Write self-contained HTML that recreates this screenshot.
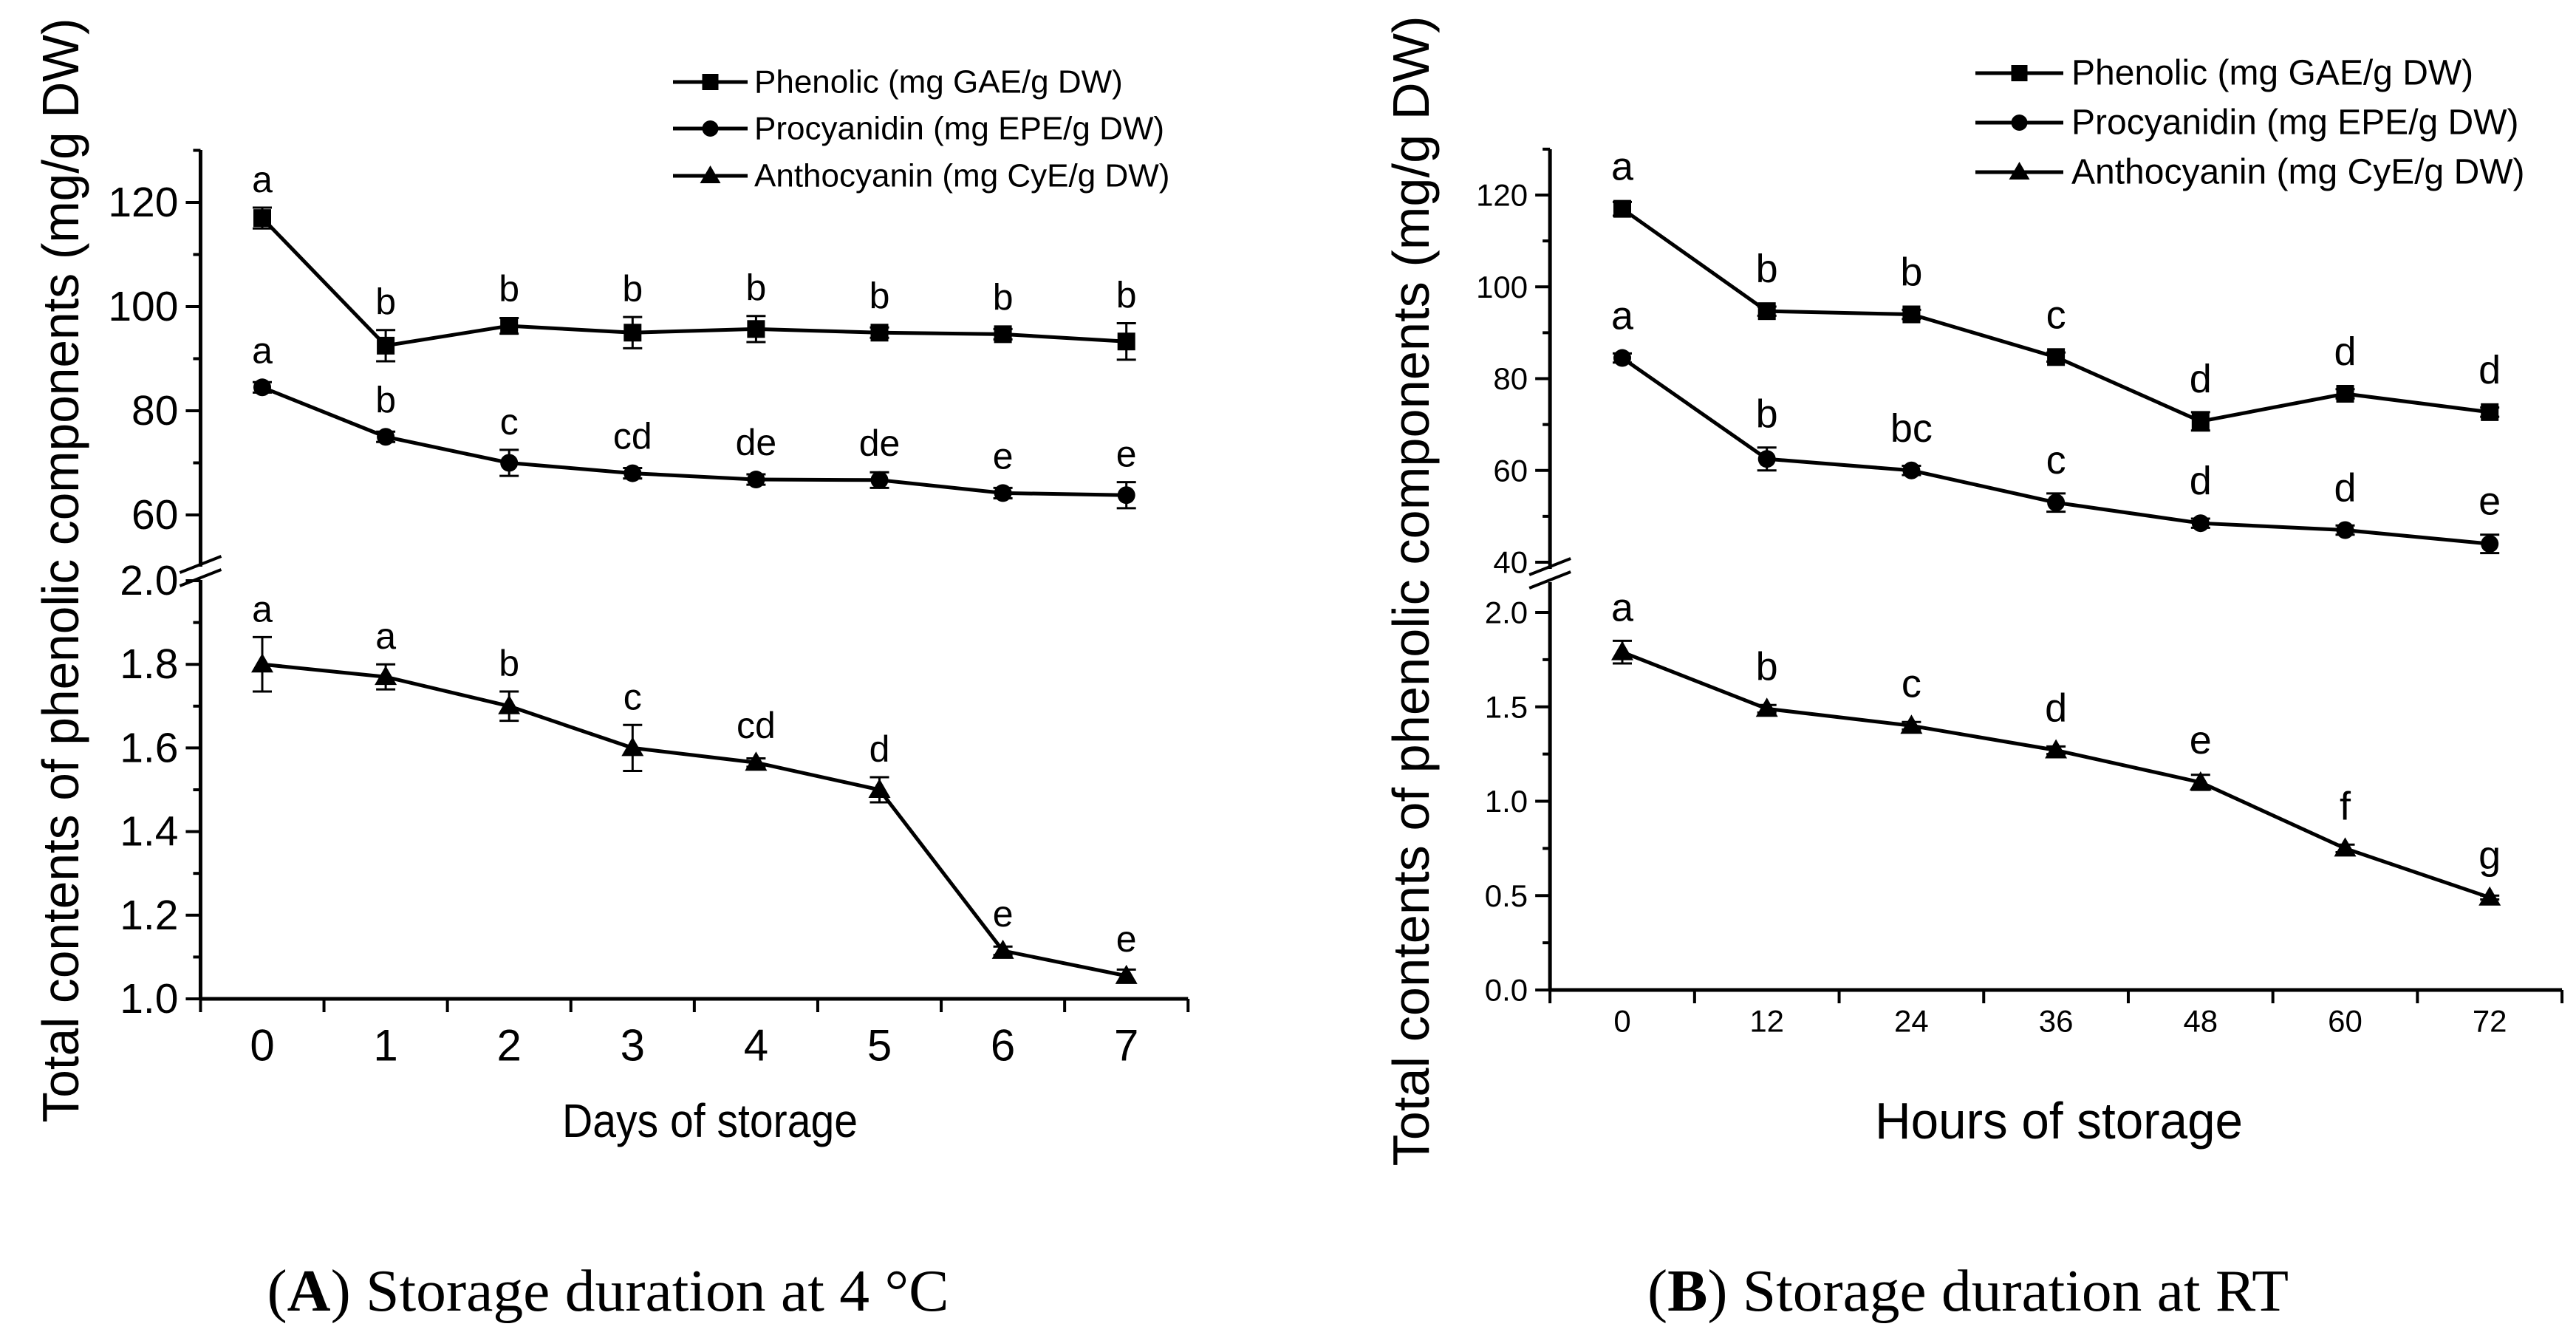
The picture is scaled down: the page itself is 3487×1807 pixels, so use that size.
<!DOCTYPE html>
<html><head><meta charset="utf-8"><style>
html,body{margin:0;padding:0;background:#fff}
svg{display:block}
text{font-family:"Liberation Sans",Arial,sans-serif;fill:#000}
.cap{font-family:"Liberation Serif","Times New Roman",serif}
</style></head><body>
<svg id="fig" width="3487" height="1807" viewBox="0 0 3487 1807" xmlns="http://www.w3.org/2000/svg">
<text class="cap" x="823" y="1748" font-size="80" text-anchor="middle" dominant-baseline="central" textLength="923" lengthAdjust="spacingAndGlyphs">(<tspan font-weight="bold">A</tspan>) Storage duration at 4 °C</text>
<text class="cap" x="2664" y="1748" font-size="80" text-anchor="middle" dominant-baseline="central" textLength="868" lengthAdjust="spacingAndGlyphs">(<tspan font-weight="bold">B</tspan>) Storage duration at RT</text>
</svg>
<script>
// Panel A data
const catsA = ['0','1','2','3','4','5','6','7'];
const phenA = [117, 92.5, 96.3, 95, 95.7, 95, 94.7, 93.3];
const phenErrA = [2, 3, 1.5, 3, 2.5, 1, 1, 3.5];
const phenLetA = ['a','b','b','b','b','b','b','b'];
const procA = [84.5, 75, 70, 68, 66.8, 66.7, 64.2, 63.8];
const procErrA = [1, 1, 2.5, 1, 1, 1.5, 1, 2.5];
const procLetA = ['a','b','c','cd','de','de','e','e'];
const anthA = [1.80, 1.77, 1.70, 1.60, 1.565, 1.50, 1.115, 1.055];
const anthErrA = [0.065, 0.03, 0.035, 0.055, 0.01, 0.03, 0.01, 0.015];
const anthLetA = ['a','a','b','c','cd','d','e','e'];
const upTicksA = [60, 80, 100, 120];
const loTicksA = ['1.0','1.2','1.4','1.6','1.8','2.0'];
// Panel B data
const catsB = ['0','12','24','36','48','60','72'];
const phenB = [117, 94.7, 94, 84.7, 70.7, 76.7, 72.7];
const phenErrB = [1.5, 1, 1, 1, 2, 1, 1];
const phenLetB = ['a','b','b','c','d','d','d'];
const procB = [84.5, 62.5, 60, 53, 48.5, 47, 44];
const procErrB = [1, 2.5, 1, 2, 1, 1, 2];
const procLetB = ['a','b','bc','c','d','d','e'];
const anthB = [1.79, 1.49, 1.40, 1.27, 1.10, 0.75, 0.49];
const anthErrB = [0.06, 0.02, 0.02, 0.02, 0.04, 0.02, 0.01];
const anthLetB = ['a','b','c','d','e','f','g'];
const upTicksB = [40, 60, 80, 100, 120];
const loTicksB = ['0.0','0.5','1.0','1.5','2.0'];

const NS='http://www.w3.org/2000/svg';
const svg=document.getElementById('fig');
function mk(tag,attrs,parent){const e=document.createElementNS(NS,tag);for(const k in attrs)e.setAttribute(k,attrs[k]);(parent||svg).appendChild(e);return e;}

function panel(cfg){
  const g=mk('g',{});
  
  
  const n=cfg.cats.length;
  const xs=(i)=>cfg.x0+i*cfg.dx;
  const axL=cfg.x0-cfg.dx/2, axR=cfg.x0+(n-0.5)*cfg.dx;
  const yU=(v)=>cfg.uA.y+(v-cfg.uA.v)*(cfg.uB.y-cfg.uA.y)/(cfg.uB.v-cfg.uA.v);
  const yL=(v)=>cfg.lA.y+(v-cfg.lA.v)*(cfg.lB.y-cfg.lA.y)/(cfg.lB.v-cfg.lA.v);
  const ya=mk('path',{d:`M${axL} ${cfg.top}V${cfg.brk-8}M${axL} ${cfg.brk+10}V${cfg.bottom}`,stroke:'#000','stroke-width':5,fill:'none'},g);
  
  
  const xa=mk('line',{x1:axL,x2:axR,y1:cfg.bottom,y2:cfg.bottom,stroke:'#000','stroke-width':5},g);
  
  
  const br=mk('path',{d:`M${axL-28} ${cfg.brk}L${axL+28} ${cfg.brk-22}M${axL-28} ${cfg.brk+18}L${axL+28} ${cfg.brk-4}`,stroke:'#000','stroke-width':4,fill:'none'},g);
  
  
  cfg.upT.forEach((v,i)=>{
    mk('line',{x1:axL-20,x2:axL,y1:yU(v),y2:yU(v),stroke:'#000','stroke-width':4},g);
    if(i<cfg.upT.length-1){const m=(v+cfg.upT[i+1])/2;mk('line',{x1:axL-10,x2:axL,y1:yU(m),y2:yU(m),stroke:'#000','stroke-width':4},g);}
    const t=mk('text',{x:axL-30,y:yU(v),'font-size':cfg.tfs,'text-anchor':'end','dominant-baseline':'central'},g);
    
    
    t.textContent=v;
  });
  const um=cfg.upT[cfg.upT.length-1]+(cfg.upT[1]-cfg.upT[0])/2;
  mk('line',{x1:axL-10,x2:axL,y1:yU(um),y2:yU(um),stroke:'#000','stroke-width':4},g);
  cfg.loT.forEach((s,i)=>{
    const v=parseFloat(s);
    mk('line',{x1:axL-20,x2:axL,y1:yL(v),y2:yL(v),stroke:'#000','stroke-width':4},g);
    if(i<cfg.loT.length-1){const m=(v+parseFloat(cfg.loT[i+1]))/2;mk('line',{x1:axL-10,x2:axL,y1:yL(m),y2:yL(m),stroke:'#000','stroke-width':4},g);}
    const t=mk('text',{x:axL-30,y:yL(v),'font-size':cfg.tfs,'text-anchor':'end','dominant-baseline':'central'},g);
    
    
    t.textContent=s;
  });
  for(let i=0;i<=n;i++){const x=axL+i*cfg.dx;mk('line',{x1:x,x2:x,y1:cfg.bottom,y2:cfg.bottom+18,stroke:'#000','stroke-width':4},g);}
  cfg.cats.forEach((c,i)=>{
    const t=mk('text',{x:xs(i),y:cfg.bottom+cfg.xly,'font-size':cfg.xfs,'text-anchor':'middle','dominant-baseline':'central'},g);
    
    
    t.textContent=c;
  });
  const xt=mk('text',{x:cfg.xtX,y:1517,'font-size':cfg.xtfs,'text-anchor':'middle','dominant-baseline':'central',textLength:cfg.xtLen,lengthAdjust:'spacingAndGlyphs'},g);
  
  
  xt.textContent=cfg.xt;
  const yt=mk('text',{x:0,y:0,'font-size':70,'text-anchor':'middle','dominant-baseline':'central',textLength:cfg.ytLen,lengthAdjust:'spacingAndGlyphs',transform:`translate(${cfg.ytX},${cfg.ytY}) rotate(-90)`},g);
  
  
  yt.textContent='Total contents of phenolic components (mg/g DW)';
  const series=[
    {name:'phenolic',vals:cfg.phen,err:cfg.phenE,let:cfg.phenL,y:yU,m:'sq'},
    {name:'procyanidin',vals:cfg.proc,err:cfg.procE,let:cfg.procL,y:yU,m:'ci'},
    {name:'anthocyanin',vals:cfg.anth,err:cfg.anthE,let:cfg.anthL,y:yL,m:'tr'}];
  series.forEach(s=>{
    const sg=mk('g',{},g);
    
    
    const d=s.vals.map((v,i)=>(i?'L':'M')+xs(i)+' '+s.y(v)).join('');
    mk('path',{d:d,stroke:'#000','stroke-width':5,fill:'none'},sg);
    s.vals.forEach((v,i)=>{
      const x=xs(i),y=s.y(v),yt=s.y(v+s.err[i]),yb=s.y(v-s.err[i]);
      mk('path',{d:`M${x} ${yt}V${yb}M${x-13} ${yt}H${x+13}M${x-13} ${yb}H${x+13}`,stroke:'#000','stroke-width':3,fill:'none'},sg);
      let mkEl;
      if(s.m==='sq')mkEl=mk('rect',{x:x-12,y:y-12,width:24,height:24,fill:'#000'},sg);
      else if(s.m==='ci')mkEl=mk('circle',{cx:x,cy:y,r:12,fill:'#000'},sg);
      else mkEl=mk('path',{d:`M${x} ${y-15}L${x+15} ${y+11}L${x-15} ${y+11}Z`,fill:'#000'},sg);
      
      
      const lt=mk('text',{x:x,y:Math.min(yt,y-12)-cfg.lofs,'font-size':cfg.lfs,'text-anchor':'middle','dominant-baseline':'central'},sg);
      
      
      lt.textContent=s.let[i];
    });
  });
  const names=['Phenolic (mg GAE/g DW)','Procyanidin (mg EPE/g DW)','Anthocyanin (mg CyE/g DW)'];
  const ms=['sq','ci','tr'];
  const lg=mk('g',{},g);
  
  
  names.forEach((nm,i)=>{
    const y=cfg.legY[i],x1=cfg.legX1,x2=cfg.legX2,xm=(x1+x2)/2;
    const e=mk('g',{},lg);
    
    
    mk('line',{x1:x1,x2:x2,y1:y,y2:y,stroke:'#000','stroke-width':5},e);
    if(ms[i]==='sq')mk('rect',{x:xm-11,y:y-11,width:22,height:22,fill:'#000'},e);
    else if(ms[i]==='ci')mk('circle',{cx:xm,cy:y,r:11,fill:'#000'},e);
    else mk('path',{d:`M${xm} ${y-14}L${xm+14} ${y+10}L${xm-14} ${y+10}Z`,fill:'#000'},e);
    const t=mk('text',{x:cfg.legT,y:y,'font-size':cfg.legfs,'dominant-baseline':'central'},e);
    t.textContent=nm;
  });
}

panel({name:'panel-a',cats:catsA,x0:355,dx:167.1,top:203,bottom:1352,brk:775,
  uA:{v:120,y:274},uB:{v:60,y:697},lA:{v:2.0,y:786},lB:{v:1.0,y:1352},
  upT:upTicksA,loT:loTicksA,tfs:57,xfs:60,xly:63,xt:'Days of storage',xtX:961,xtfs:64,xtLen:400,ytX:82,ytY:772,ytLen:1495,
  phen:phenA,phenE:phenErrA,phenL:phenLetA,proc:procA,procE:procErrA,procL:procLetA,anth:anthA,anthE:anthErrA,anthL:anthLetA,
  lfs:50,lofs:38,legY:[111,174,238],legX1:911,legX2:1012,legT:1021,legfs:44});
panel({name:'panel-b',cats:catsB,x0:2196,dx:195.7,top:202,bottom:1340,brk:778,
  uA:{v:120,y:264},uB:{v:40,y:761},lA:{v:2.0,y:829},lB:{v:0.0,y:1340},
  upT:upTicksB,loT:loTicksB,tfs:42,xfs:42,xly:42,xt:'Hours of storage',xtX:2787,xtfs:70,xtLen:498,ytX:1910,ytY:800,ytLen:1557,
  phen:phenB,phenE:phenErrB,phenL:phenLetB,proc:procB,procE:procErrB,procL:procLetB,anth:anthB,anthE:anthErrB,anthL:anthLetB,
  lfs:54,lofs:45,legY:[99,166,233],legX1:2674,legX2:2793,legT:2804,legfs:48});
</script>
</body></html>
